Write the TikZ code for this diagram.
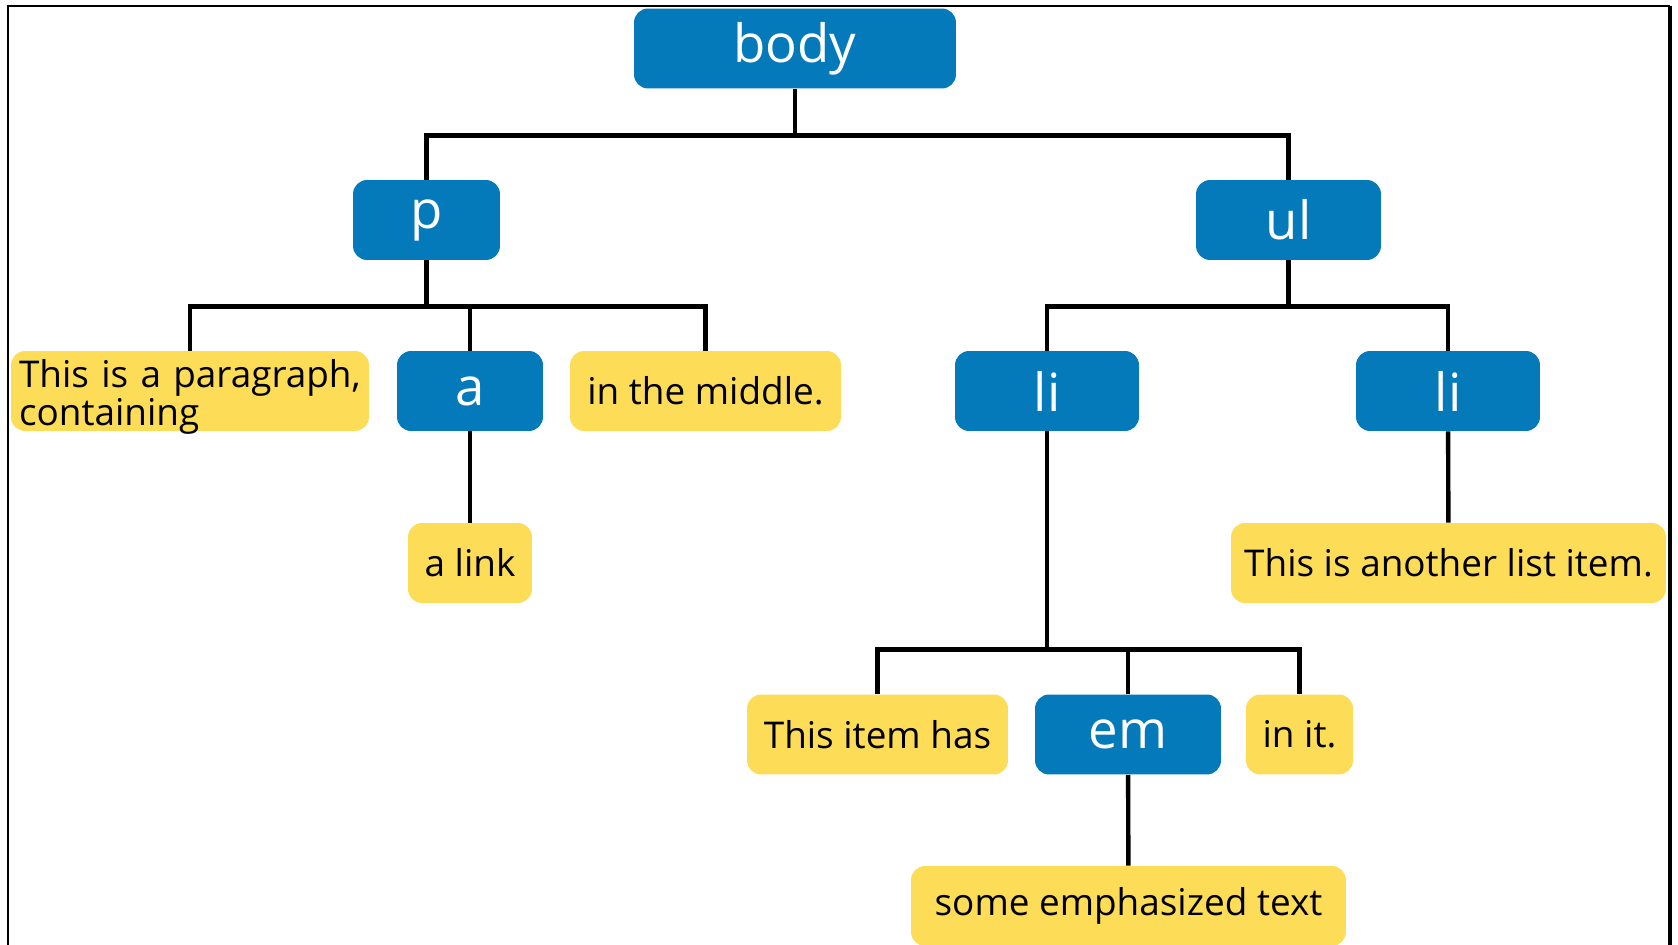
\documentclass[tikz,border=0pt]{standalone}
\usepackage{fontspec}
\setmainfont{Open Sans}
\usetikzlibrary{positioning}
\definecolor{TagBlue}{RGB}{5, 122, 187}
\definecolor{TextYellow}{RGB}{253, 220, 88}

\begin{document}
\begin{tikzpicture}[x=0.02cm, y=-0.02cm,
          tag/.style={fill=TagBlue, text=white, rounded corners=8pt, inner sep=0pt,
                      minimum height=1.6cm, font=\fontsize{30}{34}\selectfont},
          txt/.style={fill=TextYellow, text=black, rounded corners=8pt, inner sep=0pt,
                      minimum height=1.6cm, font=\fontsize{21}{21.5}\selectfont},
          branch/.style={line width=2.5pt}
        ]
        \useasboundingbox (0,0) rectangle (1678,945);
        % frame (open at the bottom)
        \draw[line width=1.3pt] (8,945) -- (8,6) -- (1670,6);
        \draw[line width=2.3pt] (1670,6) -- (1670,945);

        \node[tag, minimum width=6.44cm] (body) at (795,48.5) {body};
        \node[tag, minimum width=2.94cm] (p)    at (426.5,220) {p};
        \node[tag, minimum width=3.7cm]  (ul)   at (1288.5,220) {ul};

        \node[txt, text width=6.84cm, inner xsep=0.16cm, align=left]
              (para)   at (190,391) {\rule{0pt}{18pt}This is a paragraph,\\\smash{containing}};
        \node[tag, minimum width=2.92cm] (a)      at (470,391) {a};
        \node[txt, minimum width=5.42cm] (middle) at (705.5,391) {in the middle.};
        \node[tag, minimum width=3.68cm] (li1)    at (1047,391) {li};
        \node[tag, minimum width=3.68cm] (li2)    at (1448,391) {li};

        \node[txt, minimum width=2.48cm] (alink)   at (470,563) {a link};
        \node[txt, minimum width=8.7cm]  (another) at (1448.5,563) {This is another list item.};

        \node[txt, minimum width=5.22cm] (itemhas) at (877.5,734.5) {This item has};
        \node[tag, minimum width=3.72cm] (em)      at (1128,734.5) {em};
        \node[txt, minimum width=2.14cm] (init)    at (1299.5,734.5) {in it.};

        \node[txt, minimum width=8.7cm]  (emph) at (1128.5,906) {some emphasized text};

        \draw[branch] (body.south) -- ++(0,46.5) -| (p.north);
        \draw[branch] (body.south) -- ++(0,46.5) -| (ul.north);

        \draw[branch] (p.south) -- ++(0,46) -| (para.north);
        \draw[branch] (p.south) -- ++(0,46) -| (a.north);
        \draw[branch] (p.south) -- ++(0,46) -| (middle.north);
        \draw[branch] (a) -- (alink);

        \draw[branch] (ul.south) -- ++(0,46) -| (li1.north);
        \draw[branch] (ul.south) -- ++(0,46) -| (li2.north);
        \draw[branch] (li2) -- (another);

        \draw[branch] (li1.south) -- ++(0,218) -| (itemhas.north);
        \draw[branch] (li1.south) -- ++(0,218) -| (em.north);
        \draw[branch] (li1.south) -- ++(0,218) -| (init.north);
        \draw[branch] (em) -- (emph);
      \end{tikzpicture}
\end{document}
